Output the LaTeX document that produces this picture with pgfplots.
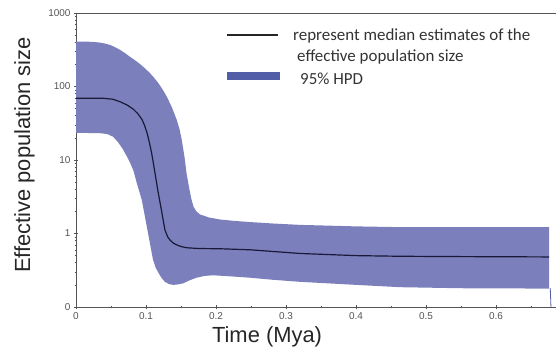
\documentclass[border=0pt]{standalone}
\usepackage{pgfplots}
\pgfplotsset{compat=1.18}
\usepackage{fontspec}
\setmainfont{Liberation Sans}
\newfontfamily\legfont{Carlito}
\definecolor{band}{RGB}{123,128,188}
\definecolor{legband}{RGB}{82,95,168}
\definecolor{axgray}{RGB}{85,85,85}
\definecolor{medline}{RGB}{25,25,55}
\begin{document}
\begin{tikzpicture}
\useasboundingbox (-76bp,-55bp) rectangle (483bp,307bp);
\begin{axis}[at={(0,0)}, anchor=south west, scale only axis,
  width=480bp, height=294bp,
  xmin=0, xmax=0.6857, ymin=0.1, ymax=1000, ymode=log,
  axis x line*=bottom, axis y line*=left,
  axis line style={axgray, line width=0.8pt, -},
  xtick={0,0.1,0.2,0.3,0.4,0.5,0.6},
  xticklabels={0,0.1,0.2,0.3,0.4,0.5,0.6},
  minor xtick={0.05,0.15,0.25,0.35,0.45,0.55,0.65},
  ytick={0.1,1,10,100,1000}, yticklabels={0,1,10,100,1000},
  tick label style={font=\fontsize{10}{12}\selectfont, text=axgray},
  tick style={axgray, line width=0.6pt},
  major tick length=4bp, minor tick length=2.5bp, tick align=center,
  xlabel={Time (Mya)}, ylabel={Effective population size},
  label style={font=\fontsize{22}{26}\selectfont, text=black!85},
  xlabel style={at={(axis description cs:0.398,-0.1224)}, anchor=base},
  ylabel style={at={(axis description cs:-0.0958,0.517)}, anchor=base},
]
\addplot[fill=band, draw=none] coordinates {
 (0,408) (0.015,408) (0.025,404) (0.035,395) (0.042,383) (0.049,367) (0.056,342)
 (0.063,315) (0.070,285) (0.077,254) (0.085,225) (0.092,200) (0.099,175)
 (0.106,151) (0.112,130) (0.118,110) (0.124,90) (0.130,72) (0.137,52) (0.144,35)
 (0.148,26) (0.151,19) (0.155,11) (0.158,6.5) (0.162,4.0) (0.165,2.9) (0.168,2.3)
 (0.172,2.0) (0.177,1.82) (0.190,1.65)
 (0.206,1.55) (0.224,1.49) (0.249,1.43) (0.28,1.37) (0.32,1.31) (0.40,1.25)
 (0.463,1.22) (0.55,1.22) (0.676,1.22)
 (0.676,0.178) (0.55,0.18) (0.463,0.186) (0.40,0.20) (0.32,0.22) (0.28,0.235)
 (0.249,0.25) (0.224,0.26) (0.21,0.265) (0.196,0.27) (0.184,0.265) (0.172,0.25)
 (0.162,0.23) (0.153,0.21) (0.146,0.203) (0.139,0.20) (0.133,0.205) (0.127,0.22)
 (0.122,0.25) (0.118,0.29) (0.114,0.34) (0.110,0.44) (0.103,1.0) (0.094,2.86)
 (0.087,4.8) (0.082,7.2) (0.077,9.3) (0.072,11.5) (0.066,14.5) (0.060,17.5)
 (0.053,20.7) (0.045,22.5) (0.034,23.2) (0,23.4)
} -- cycle;
\addplot[medline, line width=1.2pt] coordinates {
 (0,69) (0.04,69) (0.053,67) (0.063,62) (0.073,56) (0.082,49) (0.088,43) (0.094,36)
 (0.098,29.5) (0.102,22.5) (0.105,17) (0.108,12.5) (0.111,8.5) (0.114,5.7)
 (0.117,3.8) (0.122,2.09)
 (0.127,1.12) (0.131,0.9) (0.134,0.82) (0.139,0.74) (0.144,0.70) (0.150,0.665)
 (0.158,0.64) (0.175,0.625) (0.206,0.62) (0.249,0.60) (0.32,0.535) (0.40,0.50)
 (0.463,0.49) (0.55,0.485) (0.676,0.48)
};
\addplot[legband, line width=0.8pt] coordinates {(0.6775,0.18) (0.6785,0.1)};
\draw[axgray, line width=0.8pt] (rel axis cs:0,1) -- (rel axis cs:1,1);
\end{axis}
\draw[black!85, line width=2pt] (151bp,272bp) -- (202bp,272bp);
\fill[legband] (151bp,235bp) rectangle (204bp,227bp);
\node[anchor=base west, inner sep=0pt, font=\legfont\fontsize{17}{20}\selectfont, text=black!80] at (217bp,266bp) {represent median estimates of the};
\node[anchor=base west, inner sep=0pt, font=\legfont\fontsize{17}{20}\selectfont, text=black!80] at (221bp,245bp) {effective population size};
\node[anchor=base west, inner sep=0pt, font=\legfont\fontsize{17}{20}\selectfont, text=black!80] at (224bp,222bp) {95\% HPD};
\end{tikzpicture}
\end{document}
